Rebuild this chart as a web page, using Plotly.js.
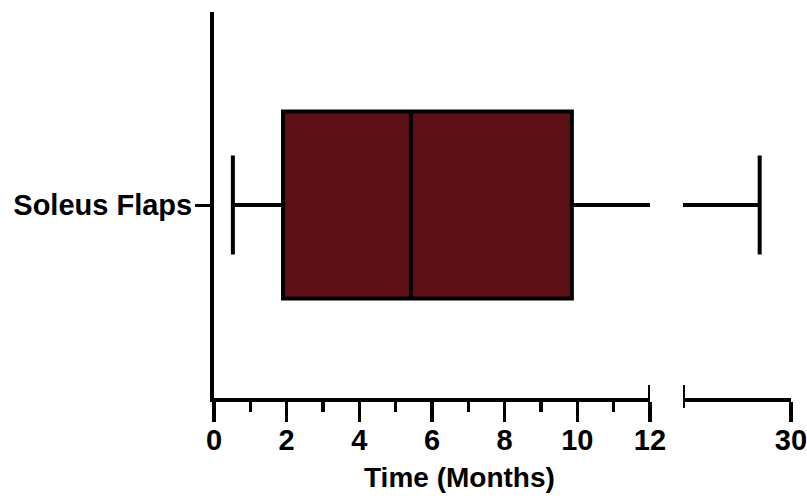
<!DOCTYPE html>
<html>
<head>
<meta charset="utf-8">
<script src="https://cdn.plot.ly/plotly-3.0.1.min.js"></script>
<style>html,body{margin:0;padding:0;background:#fff;}#chart{width:807px;height:502px;}</style>
</head>
<body>
<div id="chart"></div>
<script>
// Data
const categories = ['Soleus Flaps'];
const q1 = [1.9];
const median = [5.42];
const q3 = [9.85];
const lowerFence = [0.52];
const upperFence = [27.1];
const leftTickVals = [0, 2, 4, 6, 8, 10, 12];
const leftMinorTicks = [1, 3, 5, 7, 9, 11];
const rightTickVals = [30];
const leftRange = [0, 12];
const rightRange = [20, 30.0001];
const xTitle = 'Time (Months)';

const fill = '#5c0f14';
const boxBase = {
  type: 'box', orientation: 'h', y: categories,
  q1: q1, median: median, q3: q3, lowerfence: lowerFence, upperfence: upperFence,
  width: 0.484,
  fillcolor: fill, line: {color: '#000', width: 4}, whiskerwidth: 0.53,
  boxpoints: false, showlegend: false, hoverinfo: 'skip'
};
const traces = [
  Object.assign({}, boxBase, {xaxis: 'x', yaxis: 'y'}),
  Object.assign({}, boxBase, {xaxis: 'x2', yaxis: 'y'})
];

const tickFont = {family: '"Liberation Sans", Arial, sans-serif', size: 29, color: '#000', weight: 'bold'};
const axisCommon = {
  showline: true, linecolor: '#000', linewidth: 4, showgrid: false, zeroline: false,
  ticks: 'outside', ticklen: 20, tickwidth: 3.5, tickcolor: '#000', tickfont: tickFont,
  ticklabelstandoff: -7, ticklabeloverflow: 'allow', fixedrange: true
};

const layout = {
  width: 807, height: 502,
  margin: {l: 214, r: 16, t: 12, b: 104},
  paper_bgcolor: '#fff', plot_bgcolor: '#fff',
  xaxis: Object.assign({}, axisCommon, {
    domain: [0, 0.7556], range: leftRange, tickmode: 'array', tickvals: leftTickVals,
    minor: {tickmode: 'array', tickvals: leftMinorTicks, ticks: 'outside', ticklen: 10, tickwidth: 3.5, tickcolor: '#000'},
    anchor: 'y'
  }),
  xaxis2: Object.assign({}, axisCommon, {
    domain: [0.8128, 1], range: rightRange, tickmode: 'array', tickvals: rightTickVals,
    anchor: 'y'
  }),
  yaxis: {
    showline: true, linecolor: '#000', linewidth: 4, showgrid: false, zeroline: false,
    ticks: 'outside', ticklen: 15, tickwidth: 3, tickcolor: '#000',
    tickfont: {family: '"Liberation Sans", Arial, sans-serif', size: 29, color: '#000', weight: 'bold'},
    range: [-0.5, 0.5], fixedrange: true, ticklabelstandoff: -3
  },
  shapes: [
    {type: 'line', xref: 'x', x0: leftRange[1], x1: leftRange[1], yref: 'paper', ysizemode: 'pixel', yanchor: 0, y0: -10, y1: 13, line: {color: '#000', width: 4}},
    {type: 'line', xref: 'x2', x0: rightRange[0], x1: rightRange[0], yref: 'paper', ysizemode: 'pixel', yanchor: 0, y0: -10, y1: 13, line: {color: '#000', width: 4}}
  ],
  annotations: [
    {text: xTitle, xref: 'paper', yref: 'paper', x: 0.426, y: -0.207, xanchor: 'center', yanchor: 'middle', showarrow: false,
     font: {family: '"Liberation Sans", Arial, sans-serif', size: 28, color: '#000', weight: 'bold'}}
  ]
};

Plotly.newPlot('chart', traces, layout, {displayModeBar: false, staticPlot: true});
</script>
</body>
</html>
